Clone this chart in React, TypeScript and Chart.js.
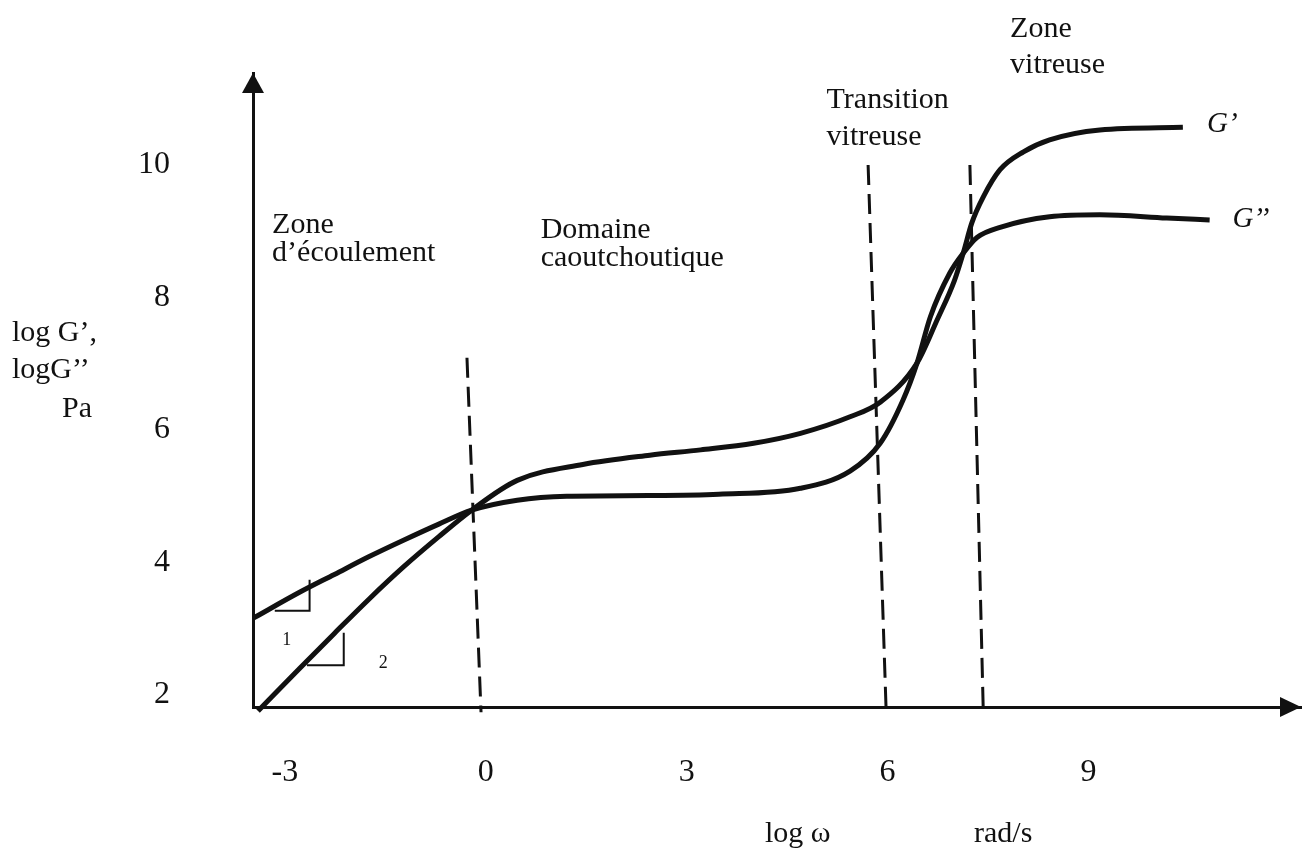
import { useEffect, useRef } from "react";
import { Chart, registerables } from "chart.js";

Chart.register(...registerables);

// ---- axis ticks ----
const xTickValues = [-3, 0, 3, 6, 9];
const xTickLabels = ["-3", "0", "3", "6", "9"];
const yTickValues = [2, 4, 6, 8, 10];
const yTickLabels = ["2", "4", "6", "8", "10"];

// ---- curves (log ω, log G) ----
const storageX = [-3.4, -2.78, -2.26, -1.74, -1.22, -0.7, -0.21, 0.47, 1.45, 2.45, 3.21, 4.0, 4.7, 5.44, 5.89, 6.44, 6.74, 7.0, 7.13, 7.26, 7.43, 7.68, 8.03, 8.42, 9.17, 10.41];
const storageY = [1.76, 2.4, 2.93, 3.45, 3.94, 4.39, 4.79, 5.24, 5.48, 5.62, 5.7, 5.8, 5.95, 6.2, 6.42, 7.01, 7.66, 8.26, 8.67, 9.13, 9.52, 9.93, 10.2, 10.38, 10.53, 10.57];
const lossX = [-3.47, -2.78, -2.26, -1.74, -1.22, -0.7, -0.21, 0.47, 1.21, 2.43, 3.48, 4.7, 5.44, 5.89, 6.23, 6.44, 6.64, 6.93, 7.13, 7.34, 7.68, 8.42, 9.17, 10.17, 10.81];
const lossY = [3.16, 3.55, 3.82, 4.09, 4.34, 4.58, 4.79, 4.94, 5.0, 5.01, 5.03, 5.12, 5.38, 5.8, 6.45, 7.01, 7.71, 8.37, 8.67, 8.91, 9.06, 9.22, 9.25, 9.2, 9.17];

// ---- zone boundaries (dashed) ----
const boundary1X = [-0.28, -0.07];
const boundary1Y = [7.09, 1.74];
const boundary2X = [5.71, 5.98];
const boundary2Y = [10.0, 1.74];
const boundary3X = [7.23, 7.43];
const boundary3Y = [10.0, 1.74];

// ---- slope triangles ----
const slope1X = [-3.15, -2.63, -2.63];
const slope1Y = [3.27, 3.27, 3.74];
const slope2X = [-2.67, -2.12, -2.12];
const slope2Y = [2.45, 2.45, 2.94];
const slopeTexts = ["1", "2"];
const slopeTextX = [-2.97, -1.53];
const slopeTextY = [2.83, 2.48];

// ---- region texts ----
const regionTexts = ["Zone", "d’écoulement", "Domaine", "caoutchoutique", "Transition", "vitreuse", "Zone", "vitreuse"];
const regionTextX = [-3.19, -3.19, 0.82, 0.82, 5.09, 5.09, 7.83, 7.83];
const regionTextY = [8.97, 8.55, 8.9, 8.47, 10.86, 10.3, 11.93, 11.39];

const curveNames = ["G’", "G’’"];
const curveNameX = [10.77, 11.15];
const curveNameY = [10.5, 9.06];

const yTitleLines = ["log G’,", "logG’’", "Pa"];
const xTitleParts = ["log ω", "rad/s"];

const INK = "#111111";
const SERIF = '"Liberation Serif", "DejaVu Serif", serif';

const zip = (xs: number[], ys: number[]) => xs.map((x, i) => ({ x, y: ys[i] }));

const decorPlugin = {
  id: "decor",
  afterDraw(chart: any) {
    const { ctx, chartArea: a, scales } = chart;
    const xs = scales.x;
    const ys = scales.y;
    ctx.save();
    ctx.fillStyle = INK;
    // arrow heads
    ctx.beginPath();
    ctx.moveTo(a.left, a.top);
    ctx.lineTo(a.left - 11, a.top + 20);
    ctx.lineTo(a.left + 11, a.top + 20);
    ctx.closePath();
    ctx.fill();
    ctx.beginPath();
    ctx.moveTo(a.right, a.bottom);
    ctx.lineTo(a.right - 21, a.bottom - 10);
    ctx.lineTo(a.right - 21, a.bottom + 10);
    ctx.closePath();
    ctx.fill();

    ctx.textBaseline = "alphabetic";
    ctx.textAlign = "left";
    ctx.font = `30px ${SERIF}`;
    regionTexts.forEach((t, i) => {
      ctx.fillText(t, xs.getPixelForValue(regionTextX[i]), ys.getPixelForValue(regionTextY[i]));
    });
    ctx.font = `italic 29px ${SERIF}`;
    curveNames.forEach((t, i) => {
      ctx.fillText(t, xs.getPixelForValue(curveNameX[i]), ys.getPixelForValue(curveNameY[i]));
    });
    ctx.font = `18px ${SERIF}`;
    ctx.textAlign = "center";
    ctx.textBaseline = "middle";
    slopeTexts.forEach((t, i) => {
      ctx.fillText(t, xs.getPixelForValue(slopeTextX[i]), ys.getPixelForValue(slopeTextY[i]));
    });

    // axis titles
    ctx.font = `30px ${SERIF}`;
    ctx.textAlign = "left";
    ctx.textBaseline = "alphabetic";
    ctx.fillText(yTitleLines[0], 12, 341);
    ctx.fillText(yTitleLines[1], 12, 378);
    ctx.fillText(yTitleLines[2], 62, 417);
    ctx.fillText(xTitleParts[0], 765, 842);
    ctx.fillText(xTitleParts[1], 974, 842);
    ctx.restore();
  },
};

export default function App() {
  const ref = useRef<HTMLCanvasElement | null>(null);
  useEffect(() => {
    if (!ref.current) return;
    const curve = (label: string, data: any[]) => ({
      label,
      data,
      borderColor: INK,
      borderWidth: 5,
      pointRadius: 0,
      cubicInterpolationMode: "monotone" as const,
      clip: false as any,
    });
    const dashed = (label: string, data: any[]) => ({
      label,
      data,
      borderColor: INK,
      borderWidth: 3,
      borderDash: [20, 9],
      pointRadius: 0,
      tension: 0,
      clip: false as any,
    });
    const thin = (label: string, data: any[]) => ({
      label,
      data,
      borderColor: INK,
      borderWidth: 2,
      pointRadius: 0,
      tension: 0,
      clip: false as any,
    });
    const chart = new Chart(ref.current, {
      type: "line",
      data: {
        datasets: [
          curve("G'", zip(storageX, storageY)),
          curve("G''", zip(lossX, lossY)),
          dashed("b1", zip(boundary1X, boundary1Y)),
          dashed("b2", zip(boundary2X, boundary2Y)),
          dashed("b3", zip(boundary3X, boundary3Y)),
          thin("s1", zip(slope1X, slope1Y)),
          thin("s2", zip(slope2X, slope2Y)),
        ] as any,
      },
      options: {
        animation: false,
        responsive: false,
        maintainAspectRatio: false,
        layout: { padding: { left: 0, top: 73, right: 9, bottom: 49 } },
        plugins: { legend: { display: false }, tooltip: { enabled: false } },
        scales: {
          x: {
            type: "linear",
            min: -3.475,
            max: 12.174,
            grid: { display: false, drawTicks: false },
            border: { display: true, color: INK, width: 3 },
            afterBuildTicks: (s: any) => {
              s.ticks = xTickValues.map((v) => ({ value: v }));
            },
            afterFit: (s: any) => {
              s.height = 100;
              s.paddingLeft = 0;
              s.paddingRight = 0;
            },
            ticks: {
              color: INK,
              padding: 46,
              maxRotation: 0,
              autoSkip: false,
              font: { family: SERIF, size: 32 },
              callback: (v: any) => xTickLabels[xTickValues.indexOf(Number(v))] ?? "",
            },
          },
          y: {
            type: "linear",
            min: 1.819,
            max: 11.389,
            grid: { display: false, drawTicks: false },
            border: { display: true, color: INK, width: 3 },
            afterBuildTicks: (s: any) => {
              s.ticks = yTickValues.map((v) => ({ value: v }));
            },
            afterFit: (s: any) => {
              s.width = 253;
              s.paddingTop = 0;
              s.paddingBottom = 0;
            },
            ticks: {
              color: INK,
              padding: 83,
              autoSkip: false,
              font: { family: SERIF, size: 32 },
              callback: (v: any) => yTickLabels[yTickValues.indexOf(Number(v))] ?? "",
            },
          },
        },
      },
      plugins: [decorPlugin],
    });
    return () => chart.destroy();
  }, []);
  return (
    <div style={{ position: "fixed", left: 0, top: 0, width: 1310, height: 856, background: "#fff" }}>
      <canvas ref={ref} width={1310} height={856} style={{ display: "block" }} />
    </div>
  );
}
